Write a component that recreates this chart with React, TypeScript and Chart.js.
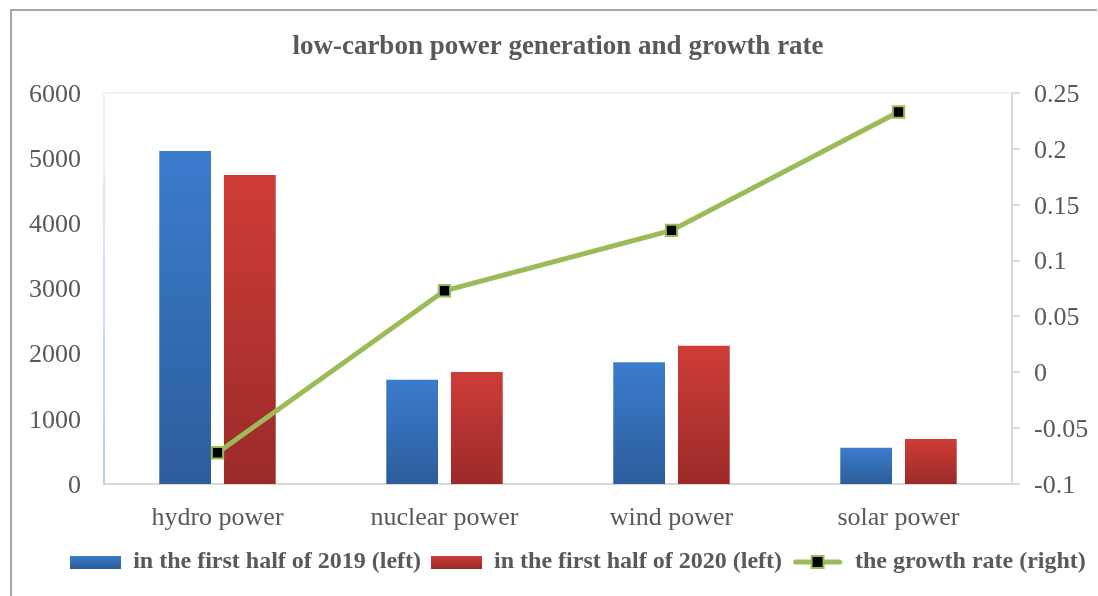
import React, { useEffect, useRef } from "react";
import { Chart, registerables } from "chart.js";

Chart.register(...registerables);

const categories = ["hydro power", "nuclear power", "wind power", "solar power"];
const gen2019 = [5110, 1600, 1870, 555];
const gen2020 = [4740, 1720, 2120, 690];
const growthRate = [-0.072, 0.073, 0.127, 0.233];

const leftTicks = [0, 1000, 2000, 3000, 4000, 5000, 6000];
const leftTickLabels = ["0", "1000", "2000", "3000", "4000", "5000", "6000"];
const rightTicks = [-0.1, -0.05, 0, 0.05, 0.1, 0.15, 0.2, 0.25];
const rightTickLabels = ["-0.1", "-0.05", "0", "0.05", "0.1", "0.15", "0.2", "0.25"];

const seriesNames = [
  "in the first half of 2019 (left)",
  "in the first half of 2020 (left)",
  "the growth rate (right)",
];

const TEXT = "#595959";
const SERIF = "'Liberation Serif', 'Times New Roman', serif";
const BLUE = ["#3b7ccd", "#2c5d9b"];
const RED = ["#cf3c38", "#9a2b29"];
const GREEN = "#9bbb59";

function barGradient(colors: string[]) {
  return (ctx: any) => {
    const chart = ctx.chart;
    const area = chart.chartArea;
    const y = chart.scales && chart.scales.y;
    if (!area || !y || ctx.type !== "data") return colors[0];
    const top = y.getPixelForValue(ctx.raw);
    const bottom = y.getPixelForValue(0);
    if (!isFinite(top) || !isFinite(bottom) || top === bottom) return colors[0];
    const g = chart.ctx.createLinearGradient(0, top, 0, bottom);
    g.addColorStop(0, colors[0]);
    g.addColorStop(1, colors[1]);
    return g;
  };
}

function legendBarImage(colors: string[]) {
  const c = document.createElement("canvas");
  c.width = 51;
  c.height = 13;
  const x = c.getContext("2d")!;
  const g = x.createLinearGradient(0, 0, 0, 13);
  g.addColorStop(0, colors[0]);
  g.addColorStop(1, colors[1]);
  x.fillStyle = g;
  x.fillRect(0, 0, 51, 13);
  return c;
}

function legendLineImage() {
  const c = document.createElement("canvas");
  c.width = 50;
  c.height = 16;
  const x = c.getContext("2d")!;
  x.strokeStyle = GREEN;
  x.lineWidth = 5;
  x.lineCap = "round";
  x.beginPath();
  x.moveTo(3, 8);
  x.lineTo(47, 8);
  x.stroke();
  x.fillStyle = "#000";
  x.fillRect(19, 2, 12, 12);
  x.strokeStyle = GREEN;
  x.lineWidth = 2;
  x.strokeRect(19, 2, 12, 12);
  return c;
}

const framePlugin = {
  id: "plotFrame",
  afterLayout(chart: any) {
    const lg = chart.legend;
    if (lg) {
      lg.left += 19;
      lg.right += 19;
    }
  },
  beforeDatasetsDraw(chart: any) {
    const { ctx, chartArea } = chart;
    if (!chartArea) return;
    ctx.save();
    ctx.lineWidth = 2;
    ctx.strokeStyle = "#eef3fa";
    ctx.beginPath();
    ctx.moveTo(chartArea.left, chartArea.top);
    ctx.lineTo(chartArea.right, chartArea.top);
    ctx.stroke();
    const g = ctx.createLinearGradient(0, chartArea.top, 0, chartArea.bottom);
    g.addColorStop(0, "#eef3fa");
    g.addColorStop(1, "#b6cce8");
    ctx.strokeStyle = g;
    ctx.beginPath();
    ctx.moveTo(chartArea.left, chartArea.top);
    ctx.lineTo(chartArea.left, chartArea.bottom);
    ctx.stroke();
    ctx.restore();
  },
};

export default function App() {
  const ref = useRef<HTMLCanvasElement | null>(null);

  useEffect(() => {
    const canvas = ref.current;
    if (!canvas) return;
    const chart = new Chart(canvas, {
      type: "bar",
      data: {
        labels: categories,
        datasets: [
          {
            type: "bar",
            label: seriesNames[0],
            data: gen2019,
            backgroundColor: barGradient(BLUE),
            borderWidth: 0,
            yAxisID: "y",
            order: 1,
            categoryPercentage: 0.57,
            barPercentage: 0.8,
          } as any,
          {
            type: "bar",
            label: seriesNames[1],
            data: gen2020,
            backgroundColor: barGradient(RED),
            borderWidth: 0,
            yAxisID: "y",
            order: 1,
            categoryPercentage: 0.57,
            barPercentage: 0.8,
          } as any,
          {
            type: "line",
            label: seriesNames[2],
            data: growthRate,
            borderColor: GREEN,
            backgroundColor: GREEN,
            borderWidth: 5,
            pointStyle: "rect",
            pointRadius: 8,
            pointBackgroundColor: "#000",
            pointBorderColor: GREEN,
            pointBorderWidth: 2,
            tension: 0,
            yAxisID: "y1",
            order: 0,
          } as any,
        ],
      },
      options: {
        responsive: false,
        animation: false,
        devicePixelRatio: 1,
        layout: { padding: { left: 20, right: 0, top: 0, bottom: 12 } },
        scales: {
          x: {
            grid: { display: false, drawTicks: false },
            border: { display: true, color: "#d9d9d9", width: 2 },
            ticks: { color: TEXT, font: { family: SERIF, size: 26 }, padding: 19, maxRotation: 0 },
            afterFit: (s: any) => {
              s.height = 56;
            },
          },
          y: {
            position: "left",
            min: 0,
            max: 6000,
            grid: { display: false, drawTicks: false },
            border: { display: false },
            ticks: {
              color: TEXT,
              font: { family: SERIF, size: 26 },
              padding: 23,
              labelOffset: 2,
              callback: (_v: any, i: number) => leftTickLabels[i],
            },
            afterBuildTicks: (s: any) => {
              s.ticks = leftTicks.map((v) => ({ value: v }));
            },
            afterFit: (s: any) => {
              s.width = 84;
            },
          },
          y1: {
            position: "right",
            min: -0.1,
            max: 0.25,
            grid: {
              display: true,
              drawOnChartArea: false,
              drawTicks: true,
              tickLength: 8,
              color: "#d9d9d9",
              lineWidth: 2,
            },
            border: { display: true, color: "#d9d9d9", width: 2 },
            ticks: {
              color: TEXT,
              font: { family: SERIF, size: 26 },
              padding: 14,
              labelOffset: 2,
              callback: (_v: any, i: number) => rightTickLabels[i],
            },
            afterBuildTicks: (s: any) => {
              s.ticks = rightTicks.map((v) => ({ value: v }));
            },
            afterFit: (s: any) => {
              s.width = 86;
            },
          },
        },
        plugins: {
          title: {
            display: true,
            text: "low-carbon power generation and growth rate",
            color: TEXT,
            font: { family: SERIF, size: 27, weight: "bold" },
            padding: { top: 31, bottom: 29.6 },
            fullSize: false,
          },
          legend: {
            display: true,
            position: "bottom",
            labels: {
              color: TEXT,
              font: { family: SERIF, size: 24, weight: "bold" },
              usePointStyle: true,
              pointStyleWidth: 51,
              boxHeight: 13,
              padding: 10,
              generateLabels: (ch: any) => {
                const items = Chart.defaults.plugins.legend.labels.generateLabels(ch);
                items.sort((a: any, b: any) => a.datasetIndex - b.datasetIndex);
                items.forEach((it: any) => {
                  if (it.datasetIndex === 0) it.pointStyle = legendBarImage(BLUE);
                  else if (it.datasetIndex === 1) it.pointStyle = legendBarImage(RED);
                  else it.pointStyle = legendLineImage();
                  it.fontColor = TEXT;
                });
                return items;
              },
            },
          },
          tooltip: { enabled: false },
        },
      } as any,
      plugins: [framePlugin],
    });
    return () => chart.destroy();
  }, []);

  return (
    <div
      style={{
        position: "fixed",
        left: 0,
        top: 0,
        width: 1098,
        height: 596,
        background: "#fff",
        overflow: "hidden",
      }}
    >
      <div
        style={{
          position: "absolute",
          left: 10,
          top: 9,
          right: 1,
          bottom: -4,
          borderLeft: "2px solid #a6a6a6",
          borderTop: "2px solid #a6a6a6",
        }}
      />
      <canvas
        ref={ref}
        width={1098}
        height={596}
        style={{ position: "absolute", left: 0, top: 0, width: 1098, height: 596 }}
      />
    </div>
  );
}
